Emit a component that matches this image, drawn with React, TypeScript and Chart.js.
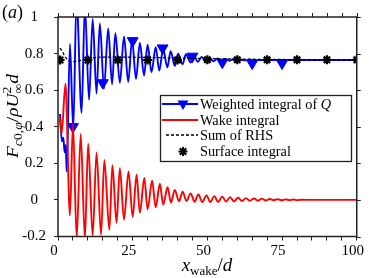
import React, { useEffect, useRef } from 'react';
import { Chart, registerables } from 'chart.js';

Chart.register(...registerables);

// ---- data ----
const yTicks = [-0.2, 0, 0.2, 0.4, 0.6, 0.8, 1];
const yTickLabels = ['-0.2', '0', '0.2', '0.4', '0.6', '0.8', '1'];
const xTickLabels = [0, 25, 50, 75, 100];
const xMinorStep = 5;

// Wake integral (red) – local extrema
const redX = [0.6, 1.2, 2.5, 4.0, 5.0, 6.25, 7.6, 9.0, 10.1, 11.6, 12.9, 14.4, 15.5, 17.2, 18.2, 19.6, 20.7, 22.1, 23.6, 25.0,
  26.3, 27.4, 28.9, 30.0, 31.5, 32.7, 34.1, 35.2, 36.7, 37.8, 39.1, 40.5, 41.7, 43.0, 44.4, 45.7, 47.0, 48.3, 49.7, 51.0,
  52.3, 53.6, 55.0, 56.3, 57.6, 58.9, 60.3, 61.6, 62.9, 64.2, 65.6, 66.9, 68.2, 69.5, 70.9, 72.2, 73.5, 74.8, 76.2, 77.5,
  78.8, 80.1, 81.5, 85, 90, 100];
const redY = [0.45, 0.36, 0.636, -0.084, 0.42, -0.21, 0.36, -0.21, 0.307, -0.195, 0.26, -0.19, 0.218, -0.164, 0.19, -0.125, 0.173, -0.108, 0.156, -0.093,
  0.138, -0.07, 0.12, -0.052, 0.106, -0.04, 0.088, -0.025, 0.07, -0.015, 0.055, -0.008, 0.045, -0.006, 0.036, -0.01, 0.03, -0.012, 0.025, -0.012,
  0.021, -0.011, 0.018, -0.009, 0.015, -0.008, 0.012, -0.006, 0.01, -0.005, 0.008, -0.004, 0.007, -0.003, 0.005, -0.002, 0.004, -0.002, 0.003, -0.001,
  0.002, -0.001, 0.001, 0, 0, 0];

// Weighted integral of Q (blue)
const blueX = [0.7, 1.3, 1.8, 2.2, 2.6, 2.9, 4.0, 5.1, 6.2, 7.9, 9.0, 10.4, 11.6, 12.9, 14.0, 15.4,
  16.8, 18.1, 19.2, 20.7, 22.1, 23.5, 24.8, 26.1, 27.4, 28.8, 30.0, 31.3, 32.7, 33.9, 35.2, 36.6, 37.7, 39.1, 40.2, 41.7,
  42.8, 44.4, 45.5, 46.8, 48.1, 49.4, 50.7, 52.0, 53.4, 54.7, 56.0, 57.3, 58.6, 60, 61.3, 62.6, 64, 65.3, 70, 80, 100];
const blueY = [0.47, 0.32, 0.34, 0.26, 0.30, 0.155, 0.853, 0.387, 1.10, 0.476, 1.06, 0.547, 0.99, 0.582, 0.965, 0.609,
  0.938, 0.632, 0.911, 0.64, 0.893, 0.645, 0.876, 0.662, 0.858, 0.68, 0.849, 0.698, 0.835, 0.707, 0.826, 0.725, 0.813, 0.733, 0.80, 0.742,
  0.796, 0.751, 0.787, 0.755, 0.782, 0.757, 0.778, 0.758, 0.774, 0.76, 0.771, 0.761, 0.769, 0.762, 0.767, 0.763, 0.766, 0.764, 0.765, 0.765, 0.765];
const markX = [5, 15, 25, 35, 45, 55, 65, 75];
const markY = [0.40, 0.64, 0.87, 0.83, 0.785, 0.752, 0.747, 0.747];

// Sum of RHS (black dashed)
const rhsX = [0.7, 1.5, 2.5, 3.5, 4.5, 6, 8, 10, 13, 18, 25, 40, 60, 80, 100];
const rhsY = [0.83, 0.81, 0.78, 0.762, 0.756, 0.757, 0.765, 0.773, 0.779, 0.781, 0.78, 0.776, 0.77, 0.767, 0.765];

// Surface integral (stars)
const surfX = [0.7, 10, 20, 30, 40, 50, 60, 70, 80, 90, 100];
const surfY = [0.765, 0.765, 0.765, 0.765, 0.765, 0.766, 0.766, 0.766, 0.766, 0.766, 0.766];

const pts = (xs: number[], ys: number[]) => xs.map((x, i) => ({ x, y: ys[i] }));

const SERIF = "'Liberation Serif', serif";

const framePlugin = {
  id: 'frame',
  afterDraw(chart: any) {
    const { ctx, chartArea: a, scales } = chart;
    ctx.save();
    ctx.strokeStyle = '#222';
    ctx.lineWidth = 1;
    ctx.beginPath();
    scales.x.ticks.forEach((t: any) => {
      const px = Math.round(scales.x.getPixelForValue(t.value)) + 0.5;
      ctx.moveTo(px, a.top);
      ctx.lineTo(px, a.top - 4);
    });
    scales.y.ticks.forEach((t: any) => {
      const py = Math.round(scales.y.getPixelForValue(t.value)) + 0.5;
      ctx.moveTo(a.right, py);
      ctx.lineTo(a.right + 4, py);
    });
    ctx.stroke();
    ctx.lineWidth = 1.5;
    ctx.strokeRect(a.left, a.top, a.right - a.left, a.bottom - a.top);
    ctx.restore();
  },
};

export default function App() {
  const ref = useRef<HTMLCanvasElement>(null);
  useEffect(() => {
    document.body.style.margin = '0';
    const chart = new Chart(ref.current as HTMLCanvasElement, {
      type: 'line',
      data: {
        datasets: [
          { label: 'Surface integral', data: pts(surfX, surfY), showLine: false, pointStyle: 'star', pointRadius: 4.5, pointBorderWidth: 2.2, borderColor: '#000', backgroundColor: '#000' },
          { label: 'Sum of RHS', data: pts(rhsX, rhsY), borderColor: '#000', borderWidth: 1.3, borderDash: [3, 2], pointRadius: 0, cubicInterpolationMode: 'monotone' },
          { label: 'Wake integral', data: pts(redX, redY), borderColor: '#ff0000', borderWidth: 1.9, pointRadius: 0, cubicInterpolationMode: 'monotone' },
          { label: 'markers', data: pts(markX, markY), showLine: false, pointStyle: 'triangle', rotation: 180, pointRadius: 6.3, pointBorderWidth: 1, borderColor: '#0000ff', backgroundColor: '#0000ff' },
          { label: 'Weighted integral of Q', data: pts(blueX, blueY), borderColor: '#0000ff', borderWidth: 1.9, pointRadius: 0, cubicInterpolationMode: 'monotone' },
        ],
      } as any,
      options: {
        responsive: false,
        devicePixelRatio: 1,
        animation: false,
        events: [],
        layout: { padding: { top: 11.5, right: 13, left: 0, bottom: 0 } },
        plugins: { legend: { display: false }, tooltip: { enabled: false } },
        scales: {
          x: {
            type: 'linear', min: 0, max: 100,
            afterBuildTicks: (s: any) => {
              const t: { value: number }[] = [];
              for (let v = xTickLabels[0]; v <= xTickLabels[xTickLabels.length - 1]; v += xMinorStep) t.push({ value: v });
              s.ticks = t;
            },
            afterFit: (s: any) => { s.height = 41.5; },
            ticks: {
              autoSkip: false, maxRotation: 0, padding: 2, labelOffset: -4, color: '#000',
              font: { family: SERIF, size: 15 },
              callback: (v: any) => (xTickLabels.includes(v) ? String(v) : ''),
            },
            grid: { display: true, drawOnChartArea: false, drawTicks: true, tickLength: 4, color: '#222', lineWidth: 1 },
            border: { display: false },
          },
          y: {
            type: 'linear', min: -0.2, max: 1,
            afterBuildTicks: (s: any) => { s.ticks = yTicks.map((v) => ({ value: v })); },
            afterFit: (s: any) => { s.width = 58; },
            ticks: {
              autoSkip: false, crossAlign: 'center', padding: 8, color: '#000',
              font: { family: SERIF, size: 15 },
              callback: (_v: any, i: number) => yTickLabels[i],
            },
            grid: { display: true, drawOnChartArea: false, drawTicks: true, tickLength: 4, color: '#222', lineWidth: 1 },
            border: { display: false },
          },
        },
      } as any,
      plugins: [framePlugin],
    });
    return () => chart.destroy();
  }, []);

  return (
    <div style={{ position: 'relative', width: 370, height: 278 }}>
      <canvas ref={ref} width={370} height={278} style={{ display: 'block', width: 370, height: 278 }} />
      <svg width={370} height={278} style={{ position: 'absolute', left: 0, top: 0, pointerEvents: 'none', fontFamily: SERIF }}>
        <text x={2} y={18} fontSize={18} fill="#000">(<tspan fontStyle="italic">a</tspan>)</text>
        <text x={207} y={271} fontSize={19} textAnchor="middle" fill="#000">
          <tspan fontStyle="italic">x</tspan>
          <tspan fontSize={13} dy={4}>wake</tspan>
          <tspan dy={-4}>/</tspan>
          <tspan fontStyle="italic">d</tspan>
        </text>
        <text transform="translate(18,158) rotate(-90)" fontSize={17} textAnchor="start" fill="#000"
          textLength={84} lengthAdjust="spacingAndGlyphs">
          <tspan fontStyle="italic">F</tspan>
          <tspan fontSize={12} dy={4} fontStyle="italic">c</tspan>
          <tspan fontSize={12}>0,</tspan>
          <tspan fontSize={12} fontStyle="italic">φ</tspan>
          <tspan dy={-4}>/</tspan>
          <tspan fontStyle="italic">ρU</tspan>
          <tspan fontSize={12} dy={-7}>2</tspan>
          <tspan fontSize={12} dx={-6} dy={11}>∞</tspan>
          <tspan dy={-4} fontStyle="italic">d</tspan>
        </text>
        <g>
          <rect x={160.5} y={95.5} width={191} height={66} fill="#fff" stroke="#222" strokeWidth={1.3} />
          <line x1={162} y1={104} x2={198} y2={104} stroke="#0000ff" strokeWidth={2} />
          <polygon points="177.5,100.5 188.5,100.5 183,110" fill="#0000ff" />
          <line x1={162} y1={120} x2={198} y2={120} stroke="#ff0000" strokeWidth={2} />
          <line x1={166} y1={135} x2={198} y2={135} stroke="#000" strokeWidth={1.3} strokeDasharray="3,2" />
          <g stroke="#000" strokeWidth={2}>
            <line x1={178.5} y1={151.5} x2={187.5} y2={151.5} />
            <line x1={183} y1={147} x2={183} y2={156} />
            <line x1={179.8} y1={148.3} x2={186.2} y2={154.7} />
            <line x1={179.8} y1={154.7} x2={186.2} y2={148.3} />
          </g>
          <text x={200} y={108.5} fontSize={14.3} fill="#000">Weighted integral of <tspan fontStyle="italic">Q</tspan></text>
          <text x={200} y={124.5} fontSize={14.3} fill="#000">Wake integral</text>
          <text x={200} y={140} fontSize={14.3} fill="#000">Sum of RHS</text>
          <text x={200} y={156} fontSize={14.3} fill="#000">Surface integral</text>
        </g>
      </svg>
    </div>
  );
}
